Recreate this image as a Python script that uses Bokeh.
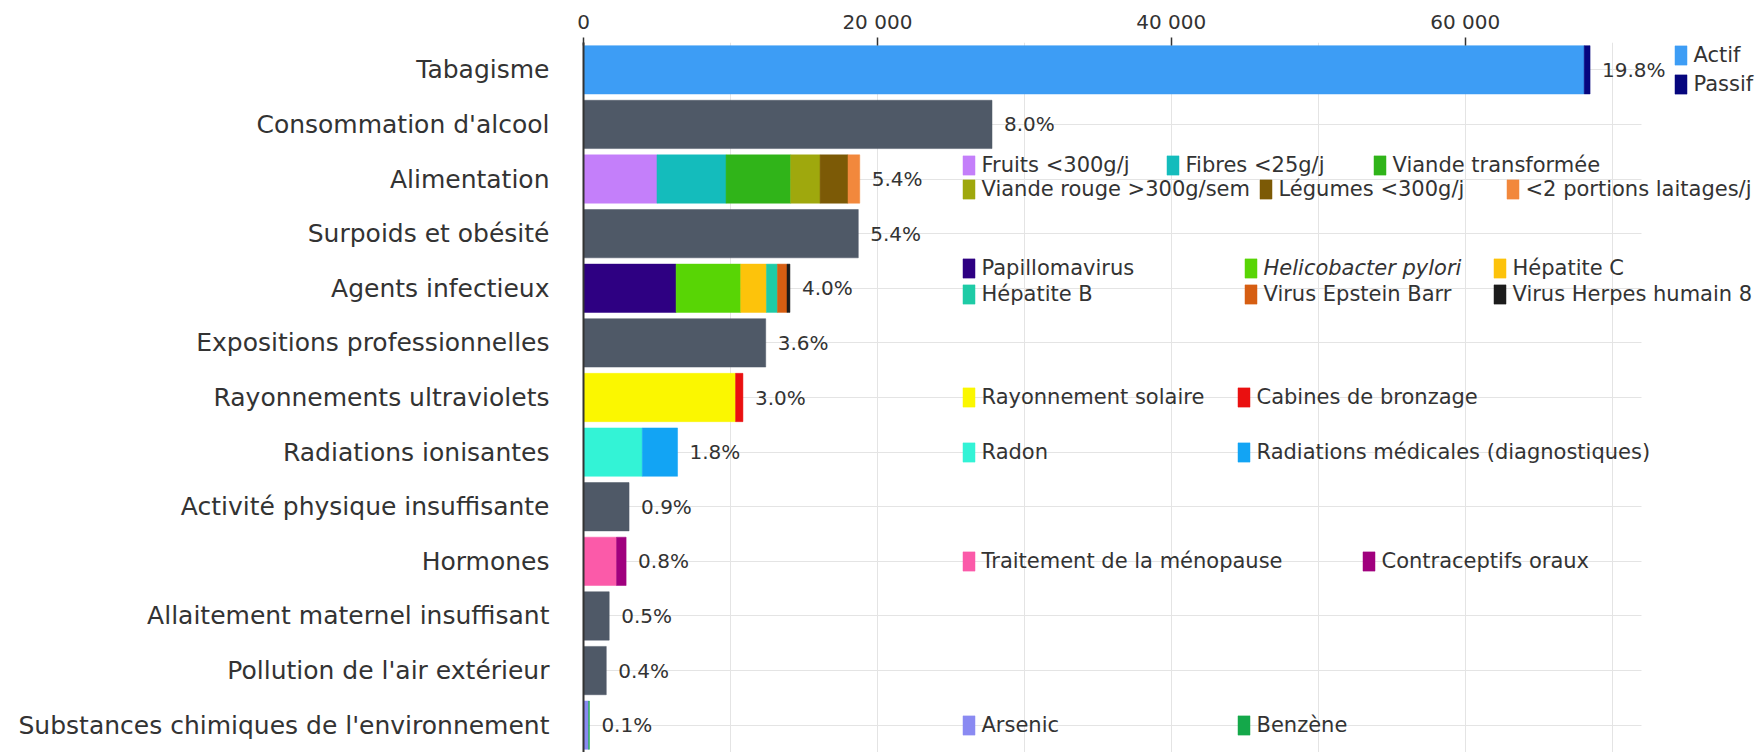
from bokeh.plotting import figure
from bokeh.models import (ColumnDataSource, FactorRange, Range1d, FixedTicker,
                          Legend, LegendItem, LabelSet, CustomJSTickFormatter)
from bokeh.core.properties import value
from bokeh.embed import file_html
from bokeh.resources import INLINE

# ---------------- data ----------------
categories = [
    "Tabagisme",
    "Consommation d'alcool",
    "Alimentation",
    "Surpoids et obésité",
    "Agents infectieux",
    "Expositions professionnelles",
    "Rayonnements ultraviolets",
    "Radiations ionisantes",
    "Activité physique insuffisante",
    "Hormones",
    "Allaitement maternel insuffisant",
    "Pollution de l'air extérieur",
    "Substances chimiques de l'environnement",
]
pct_labels = ["19.8%", "8.0%", "5.4%", "5.4%", "4.0%", "3.6%", "3.0%",
              "1.8%", "0.9%", "0.8%", "0.5%", "0.4%", "0.1%"]

simple_categories = ["Consommation d'alcool", "Surpoids et obésité",
                     "Expositions professionnelles", "Activité physique insuffisante",
                     "Allaitement maternel insuffisant", "Pollution de l'air extérieur"]
simple_values = [27800, 18700, 12400, 3100, 1750, 1550]

tabac_labels = ["Actif", "Passif"]
tabac_values = [68100, 400]

alim_labels = ["Fruits <300g/j", "Fibres <25g/j", "Viande transformée",
               "Viande rouge >300g/sem", "Légumes <300g/j", "<2 portions laitages/j"]
alim_values = [5000, 4700, 4400, 2000, 1900, 800]

infect_labels = ["Papillomavirus", "Helicobacter pylori", "Hépatite C",
                 "Hépatite B", "Virus Epstein Barr", "Virus Herpes humain 8"]
infect_values = [6300, 4400, 1750, 750, 650, 200]

uv_labels = ["Rayonnement solaire", "Cabines de bronzage"]
uv_values = [10350, 500]

rad_labels = ["Radon", "Radiations médicales (diagnostiques)"]
rad_values = [4000, 2400]

horm_labels = ["Traitement de la ménopause", "Contraceptifs oraux"]
horm_values = [2250, 650]

chem_labels = ["Arsenic", "Benzène"]
chem_values = [350, 50]

# ---------------- style ----------------
GRAY = "#4f5967"
tabac_colors = ["#3d9df5", "#06067e"]
alim_colors = ["#c47ffa", "#14bcbc", "#30b419", "#9fa80d", "#7c5a06", "#f2883c"]
infect_colors = ["#2e0082", "#58d505", "#fdc30b", "#1ecba6", "#d65e12", "#1c1c1c"]
uv_colors = ["#fbf700", "#ea1010"]
rad_colors = ["#33f3d6", "#12a4f4"]
horm_colors = ["#fb5aa9", "#a0007e"]
chem_colors = ["#8a8af2", "#14a84a"]

FONT = "DejaVu Sans"
TXT = "#333333"

# legend layout: page x of swatch left edge, page y of item centre
legend_layout = {
    "Actif": (1678, 55), "Passif": (1678, 84),
    "Fruits <300g/j": (966, 165), "Fibres <25g/j": (1170, 165), "Viande transformée": (1377, 165),
    "Viande rouge >300g/sem": (966, 189), "Légumes <300g/j": (1263, 189), "<2 portions laitages/j": (1510, 189),
    "Papillomavirus": (966, 268), "Helicobacter pylori": (1248, 268), "Hépatite C": (1497, 268),
    "Hépatite B": (966, 294), "Virus Epstein Barr": (1248, 294), "Virus Herpes humain 8": (1497, 294),
    "Rayonnement solaire": (966, 397), "Cabines de bronzage": (1241, 397),
    "Radon": (966, 452), "Radiations médicales (diagnostiques)": (1241, 452),
    "Traitement de la ménopause": (966, 561), "Contraceptifs oraux": (1366, 561),
    "Arsenic": (966, 725), "Benzène": (1241, 725),
}
italic_labels = {"Helicobacter pylori"}
LEGEND_DX = -4

W, H = 1760, 752
ML, MR, MT, MB = 583, 0, 42, 0
FRAME_L = ML
FRAME_B = H - MB
PX_PER_UNIT = 1058 / 72000          # horizontal scale of the reference
X_END = (W - ML - MR) / PX_PER_UNIT
GRID_END = 72000                      # horizontal grid lines stop here
ITEM_H = 24
GLYPH_W = 15

# ---------------- build segments ----------------
groups = [
    ("Tabagisme", tabac_labels, tabac_values, tabac_colors),
    ("Alimentation", alim_labels, alim_values, alim_colors),
    ("Agents infectieux", infect_labels, infect_values, infect_colors),
    ("Rayonnements ultraviolets", uv_labels, uv_values, uv_colors),
    ("Radiations ionisantes", rad_labels, rad_values, rad_colors),
    ("Hormones", horm_labels, horm_values, horm_colors),
    ("Substances chimiques de l'environnement", chem_labels, chem_values, chem_colors),
]
seg = dict(cat=[], left=[], right=[], color=[], label=[])
totals = {}
for cat, labels, vals, cols in groups:
    acc = 0
    for lab, v, c in zip(labels, vals, cols):
        seg["cat"].append(cat)
        seg["left"].append(acc)
        seg["right"].append(acc + v)
        seg["color"].append(c)
        seg["label"].append(lab)
        acc += v
    totals[cat] = acc
for cat, v in zip(simple_categories, simple_values):
    seg["cat"].append(cat)
    seg["left"].append(0)
    seg["right"].append(v)
    seg["color"].append(GRAY)
    seg["label"].append("")
    totals[cat] = v

seg_src = ColumnDataSource(seg)
lab_src = ColumnDataSource(dict(cat=categories,
                                total=[totals[c] for c in categories],
                                pct=pct_labels))

# ---------------- figure ----------------
p = figure(width=W, height=H,
           y_range=FactorRange(factors=categories[::-1], range_padding=0),
           x_range=Range1d(0, X_END),
           x_axis_location="above",
           output_backend="svg", toolbar_location=None,
           min_border_left=ML, min_border_right=MR,
           min_border_top=MT, min_border_bottom=MB)
p.outline_line_color = None
p.background_fill_color = "white"

bars = p.hbar(y="cat", left="left", right="right", height=0.885,
              fill_color="color", line_color="color", line_width=0.5,
              source=seg_src)

# grid
p.xgrid.ticker = FixedTicker(ticks=list(range(0, 70001, 10000)))
p.xgrid.grid_line_color = "#e4e4e4"
p.ygrid.grid_line_color = "#e4e4e4"
p.ygrid.cross_bounds = (0, GRID_END)

# x axis (top)
xa = p.xaxis[0]
xa.ticker = FixedTicker(ticks=[0, 20000, 40000, 60000])
xa.formatter = CustomJSTickFormatter(
    code=r"return String(tick).replace(/\B(?=(\d{3})+(?!\d))/g, ' ');")
xa.axis_line_color = None
xa.major_tick_line_color = TXT
xa.major_tick_line_width = 1.5
xa.major_tick_out = 5
xa.major_tick_in = 3
xa.minor_tick_line_color = None
xa.major_label_text_font = FONT
xa.major_label_text_font_size = "20px"
xa.major_label_text_color = TXT
xa.major_label_standoff = 4

# y axis (left)
ya = p.yaxis[0]
ya.axis_line_color = TXT
ya.axis_line_width = 2
ya.major_tick_line_color = None
ya.minor_tick_line_color = None
ya.major_tick_out = 0
ya.major_tick_in = 0
ya.major_label_standoff = 34
ya.major_label_text_font = FONT
ya.major_label_text_font_size = "25px"
ya.major_label_text_color = TXT

# percentage labels
p.add_layout(LabelSet(x="total", y="cat", text="pct", source=lab_src,
                      x_offset=12, text_baseline="middle", text_align="left",
                      text_font=value(FONT), text_font_size="20px",
                      text_color=TXT))

# legends
for idx, lab in enumerate(seg["label"]):
    if not lab:
        continue
    gx, gy = legend_layout[lab]
    item = LegendItem(label=value(lab), renderers=[bars], index=idx)
    leg = Legend(items=[item],
                 location=(gx + LEGEND_DX - GLYPH_W * 0.1 - FRAME_L,
                           FRAME_B - gy - ITEM_H / 2),
                 orientation="vertical", padding=0, margin=0, spacing=0,
                 border_line_color=None, background_fill_alpha=0,
                 glyph_width=GLYPH_W, glyph_height=ITEM_H, label_height=ITEM_H,
                 label_standoff=6,
                 label_text_font=FONT, label_text_font_size="21px",
                 label_text_color=TXT, label_text_baseline="middle",
                 label_text_font_style="italic" if lab in italic_labels else "normal")
    p.add_layout(leg)

open("out.html", "w").write(file_html(p, INLINE))
